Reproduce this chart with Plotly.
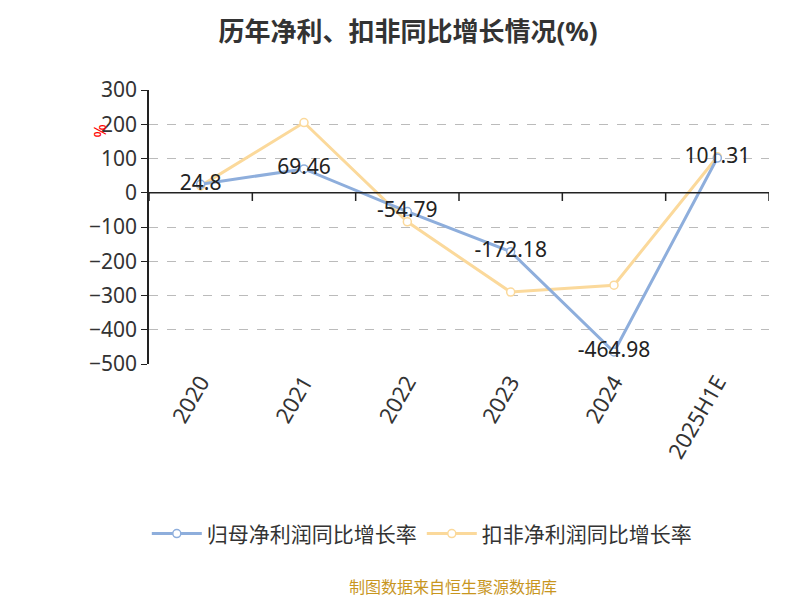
import plotly.graph_objects as go

years = ["2020", "2021", "2022", "2023", "2024", "2025H1E"]
net_growth = [24.8, 69.46, -54.79, -172.18, -464.98, 101.31]
deducted_growth = [20, 205, -85, -290, -270, 105]
y_ticks = [300, 200, 100, 0, -100, -200, -300, -400, -500]

fig = go.Figure()
fig.add_trace(go.Scatter(
    x=years, y=deducted_growth, name="扣非净利润同比增长率",
    mode="lines+markers",
    line=dict(color="#fbd99b", width=3),
    marker=dict(size=8, color="white", line=dict(color="#fbd99b", width=1.5)),
))
fig.add_trace(go.Scatter(
    x=years, y=net_growth, name="归母净利润同比增长率",
    mode="lines+markers+text", text=[str(v) for v in net_growth],
    textposition="middle center", textfont=dict(size=21, color="#222"),
    line=dict(color="#8eaedc", width=3),
    marker=dict(size=8, color="white", line=dict(color="#8eaedc", width=1.5)),
))

shapes = [dict(type="line", xref="x", yref="y", x0=-0.5, x1=5.5, y0=0, y1=0,
               line=dict(color="#222", width=1.5))]
for i in range(7):
    shapes.append(dict(type="line", xref="x", yref="paper", x0=i - 0.5, x1=i - 0.5,
                       y0=500 / 800 - 0.03, y1=500 / 800, line=dict(color="#222", width=1.5)))

fig.update_layout(
    width=800, height=600,
    paper_bgcolor="white", plot_bgcolor="white",
    font=dict(family="Noto Sans, Noto Sans CJK SC, sans-serif"),
    title=dict(text="<b>历年净利、扣非同比增长情况(%)</b>", x=0.5, y=0.975,
               xanchor="center", font=dict(size=26, color="#333")),
    margin=dict(l=141, r=39, t=82, b=244),
    xaxis=dict(type="category", range=[-0.5, 5.5], showgrid=False, showline=False,
               tickangle=-60, tickfont=dict(size=22, color="#333"), ticks=""),
    yaxis=dict(range=[-500, 300], tickvals=y_ticks, showgrid=True,
               gridcolor="#bbb", griddash="dash", zeroline=False,
               showline=True, linecolor="#222", linewidth=1.5,
               ticks="outside", ticklen=6, tickcolor="#222",
               tickfont=dict(size=21, color="#333")),
    shapes=shapes,
    legend=dict(orientation="h", x=0.44, xanchor="center", y=-0.62, yanchor="middle",
                font=dict(size=21, color="#333"), itemwidth=50, traceorder="reversed"),
    annotations=[
        dict(text="%", xref="paper", yref="paper", x=-0.1, y=0.88, showarrow=False,
             textangle=-90, font=dict(size=16, color="red")),
        dict(text="制图数据来自恒生聚源数据库", xref="paper", yref="paper", x=0.49, y=-0.86,
             showarrow=False, font=dict(size=16, color="#c8961e")),
    ],
)

fig.write_html("out.html")
